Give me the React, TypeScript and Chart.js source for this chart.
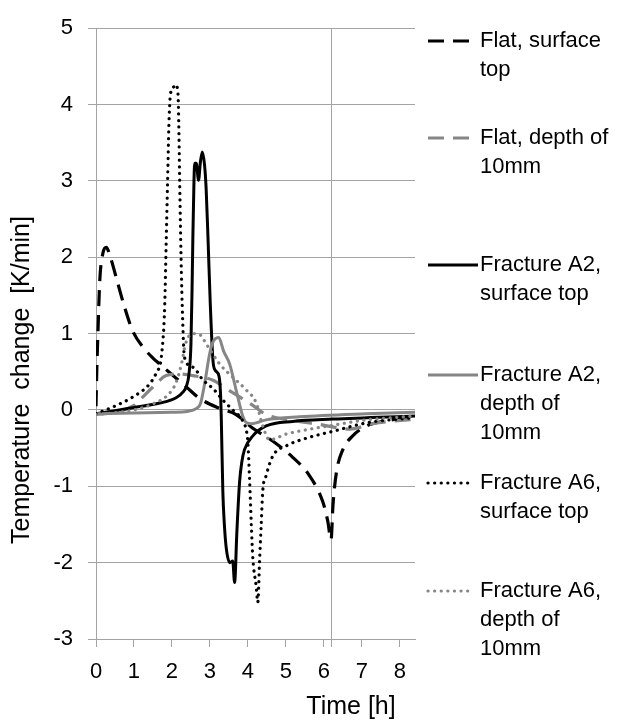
import { useEffect, useRef } from "react";
import { Chart, registerables } from "chart.js";

Chart.register(...registerables);

// ---- data ----
const xTickValues = [0, 1, 2, 3, 4, 5, 6, 7, 8];
const markerTimes = [6.19];
const xMin = 0;
const xMax = 8.4;
const yMin = -3;
const yMax = 5;

const xTitle = "Time [h]";
const yTitle = "Temperature  change  [K/min]";

const seriesLabels = [
  ["Flat, surface", "top"],
  ["Flat, depth of", "10mm"],
  ["Fracture A2,", "surface top"],
  ["Fracture A2,", "depth of", "10mm"],
  ["Fracture A6,", "surface top"],
  ["Fracture A6,", "depth of", "10mm"],
];

const flatSurfaceTop = [
  [0, 0.05], [0.02, 0.5], [0.05, 1.0], [0.1, 1.7], [0.18, 2.05], [0.27, 2.13], [0.38, 2.0],
  [0.54, 1.72], [0.75, 1.35], [0.97, 1.03], [1.24, 0.82], [1.5, 0.68], [1.68, 0.6],
  [2.03, 0.45], [2.38, 0.3], [2.73, 0.15], [3.26, 0.02], [3.69, -0.06], [4.13, -0.24],
  [4.66, -0.41], [5.18, -0.62], [5.62, -0.86], [5.97, -1.2], [6.1, -1.45], [6.19, -1.7],
  [6.24, -1.25], [6.33, -0.82], [6.5, -0.52], [6.76, -0.34], [7.12, -0.21], [7.55, -0.15],
  [8.4, -0.09],
];

const flatDepth10 = [
  [0, -0.06], [0.5, -0.03], [1.0, 0.06], [1.15, 0.13], [1.5, 0.3], [1.85, 0.45], [2.2, 0.47],
  [2.55, 0.45], [3.08, 0.39], [3.43, 0.28], [3.78, 0.17], [4.13, 0.06], [4.48, -0.06],
  [5.1, -0.13], [5.89, -0.19], [6.68, -0.25], [7.29, -0.18], [8.4, -0.12],
];

const fractureA2Top = [
  [0, -0.05], [0.5, -0.01], [0.97, 0.03], [1.68, 0.09], [2.11, 0.16], [2.3, 0.24], [2.38, 0.31],
  [2.45, 0.48], [2.5, 0.86], [2.53, 1.6], [2.55, 2.24], [2.58, 3.0], [2.6, 3.23], [2.64, 3.23],
  [2.7, 3.01], [2.75, 3.25], [2.8, 3.38], [2.86, 3.2], [2.9, 2.9], [2.95, 2.24], [3.01, 1.38],
  [3.08, 0.65], [3.14, 0.52], [3.24, 0.44], [3.28, 0.2], [3.3, -0.13], [3.34, -1.07],
  [3.38, -1.5], [3.43, -1.81], [3.52, -2.0], [3.6, -1.98], [3.65, -2.26], [3.71, -1.59],
  [3.78, -0.95], [3.84, -0.68], [3.91, -0.52], [4.13, -0.34], [4.48, -0.21], [5.18, -0.15],
  [6.24, -0.12], [8.4, -0.08],
];

const fractureA2Depth10 = [
  [0, -0.05], [1.0, -0.04], [2.0, -0.03], [2.4, -0.02], [2.65, 0.02], [2.75, 0.08],
  [2.86, 0.34], [2.99, 0.73], [3.07, 0.88], [3.23, 0.95], [3.36, 0.77], [3.52, 0.6],
  [3.69, 0.26], [3.87, -0.09], [3.97, -0.17], [4.1, -0.18], [4.48, -0.13], [5.36, -0.09],
  [7.12, -0.05], [8.4, -0.03],
];

const fractureA6Top = [
  [0, -0.05], [0.54, 0.06], [0.97, 0.17], [1.41, 0.34], [1.6, 0.5], [1.72, 0.69], [1.81, 1.38],
  [1.85, 2.24], [1.89, 3.1], [1.92, 3.74], [1.96, 4.13], [2.03, 4.22], [2.1, 4.26],
  [2.16, 4.13], [2.18, 3.74], [2.2, 3.1], [2.23, 2.24], [2.27, 1.38], [2.33, 0.69],
  [2.55, 0.56], [2.82, 0.39], [3.08, 0.28], [3.34, 0.13], [3.6, 0.0], [3.85, -0.13],
  [3.95, -0.25], [4.0, -0.43], [4.04, -0.86], [4.09, -1.5], [4.13, -1.94], [4.22, -2.32],
  [4.26, -2.52], [4.31, -1.94], [4.35, -1.5], [4.39, -1.07], [4.48, -0.86], [4.66, -0.6],
  [5.01, -0.47], [5.54, -0.37], [6.24, -0.28], [7.12, -0.17], [8.4, -0.1],
];

const fractureA6Depth10 = [
  [0, -0.06], [1.0, 0.0], [1.5, 0.08], [1.9, 0.2], [2.1, 0.35], [2.25, 0.6], [2.35, 0.85],
  [2.45, 0.97], [2.6, 1.0], [2.75, 0.98], [2.91, 0.86], [3.26, 0.6], [3.6, 0.43],
  [3.96, 0.26], [4.22, 0.09], [4.39, -0.21], [4.57, -0.39], [4.75, -0.37], [4.92, -0.33],
  [5.54, -0.26], [6.24, -0.2], [7.12, -0.13], [8.4, -0.08],
];

const seriesData = [
  flatSurfaceTop,
  flatDepth10,
  fractureA2Top,
  fractureA2Depth10,
  fractureA6Top,
  fractureA6Depth10,
];

// ---- styles ----
const BLACK = "#000000";
const GRAY = "#868686";
const GRID = "#a3a3a3";
const FONT = "'Liberation Sans', Arial, sans-serif";

const seriesStyles = [
  { color: BLACK, dash: [16, 9], cap: "butt", width: 3.2 },
  { color: GRAY, dash: [16, 9], cap: "butt", width: 3.2 },
  { color: BLACK, dash: [], cap: "butt", width: 3 },
  { color: GRAY, dash: [], cap: "butt", width: 3 },
  { color: BLACK, dash: [0.1, 6.5], cap: "round", width: 3.2 },
  { color: GRAY, dash: [0.1, 6.5], cap: "round", width: 3.2 },
];

const legendTop = [41, 138, 265, 375, 483, 591];

const extrasPlugin = {
  id: "extras",
  afterDraw(chart: any) {
    const ctx = chart.ctx;
    ctx.save();
    ctx.fillStyle = "#000";
    // axis titles
    ctx.font = `25px ${FONT}`;
    ctx.textAlign = "center";
    ctx.textBaseline = "middle";
    ctx.fillText(xTitle, 351, 707);
    ctx.save();
    ctx.translate(22, 380);
    ctx.rotate(-Math.PI / 2);
    ctx.fillText(yTitle, 0, 0);
    ctx.restore();

    // legend
    ctx.font = `22px ${FONT}`;
    ctx.textAlign = "left";
    chart.data.datasets.forEach((ds: any, i: number) => {
      const y = legendTop[i];
      const solid = !ds.borderDash || ds.borderDash.length === 0;
      ctx.save();
      ctx.strokeStyle = ds.borderColor;
      ctx.lineWidth = ds.borderWidth;
      ctx.setLineDash(ds.borderDash || []);
      ctx.lineCap = ds.borderCapStyle || "butt";
      ctx.beginPath();
      ctx.moveTo(428, y);
      ctx.lineTo(solid ? 478 : 470, y);
      ctx.stroke();
      ctx.restore();
      const lines = seriesLabels[i];
      lines.forEach((t, k) => {
        ctx.fillText(t, 480, y + k * 29);
      });
    });
    ctx.restore();
  },
};

export default function App() {
  const ref = useRef<HTMLCanvasElement | null>(null);
  useEffect(() => {
    if (!ref.current) return;
    const datasets = seriesData.map((pts, i) => ({
      label: seriesLabels[i].join(" "),
      data: pts.map(([x, y]) => ({ x, y })),
      showLine: true,
      borderColor: seriesStyles[i].color,
      backgroundColor: seriesStyles[i].color,
      borderWidth: seriesStyles[i].width,
      borderDash: seriesStyles[i].dash,
      borderCapStyle: seriesStyles[i].cap,
      borderJoinStyle: "round",
      pointRadius: 0,
      pointHoverRadius: 0,
      cubicInterpolationMode: "monotone",
      tension: 0.4,
      fill: false,
      order: seriesData.length - i,
    }));
    const allXTicks = [...xTickValues, ...markerTimes].sort((a, b) => a - b);
    const chart = new Chart(ref.current, {
      type: "scatter",
      data: { datasets } as any,
      plugins: [extrasPlugin],
      options: {
        animation: false,
        responsive: false,
        events: [],
        layout: { padding: { left: 0, top: 19, right: 207, bottom: 0 } },
        plugins: { legend: { display: false }, tooltip: { enabled: false } },
        scales: {
          x: {
            type: "linear",
            min: xMin,
            max: xMax,
            afterBuildTicks: (scale: any) => {
              scale.ticks = allXTicks.map((v) => ({ value: v }));
            },
            afterFit: (scale: any) => {
              scale.height = 85;
            },
            ticks: {
              autoSkip: false,
              maxRotation: 0,
              padding: 12,
              color: "#000",
              font: { family: FONT, size: 22 },
              callback: (v: any) => (xTickValues.includes(v) ? String(v) : ""),
            },
            grid: {
              color: (c: any) =>
                c.tick && markerTimes.includes(c.tick.value) ? GRID : "rgba(0,0,0,0)",
              tickColor: GRID,
              tickLength: 8,
              lineWidth: 1,
            },
            border: { display: true, color: GRID },
          },
          y: {
            type: "linear",
            min: yMin,
            max: yMax,
            afterFit: (scale: any) => {
              scale.width = 96;
            },
            ticks: {
              stepSize: 1,
              padding: 15,
              color: "#000",
              font: { family: FONT, size: 22 },
            },
            grid: { color: GRID, tickColor: GRID, tickLength: 8, lineWidth: 1 },
            border: { display: true, color: GRID },
          },
        },
      } as any,
    });
    return () => chart.destroy();
  }, []);
  return (
    <div style={{ position: "absolute", left: 0, top: 0, width: 622, height: 724, background: "#fff" }}>
      <canvas ref={ref} width={622} height={724} style={{ display: "block" }} />
    </div>
  );
}
